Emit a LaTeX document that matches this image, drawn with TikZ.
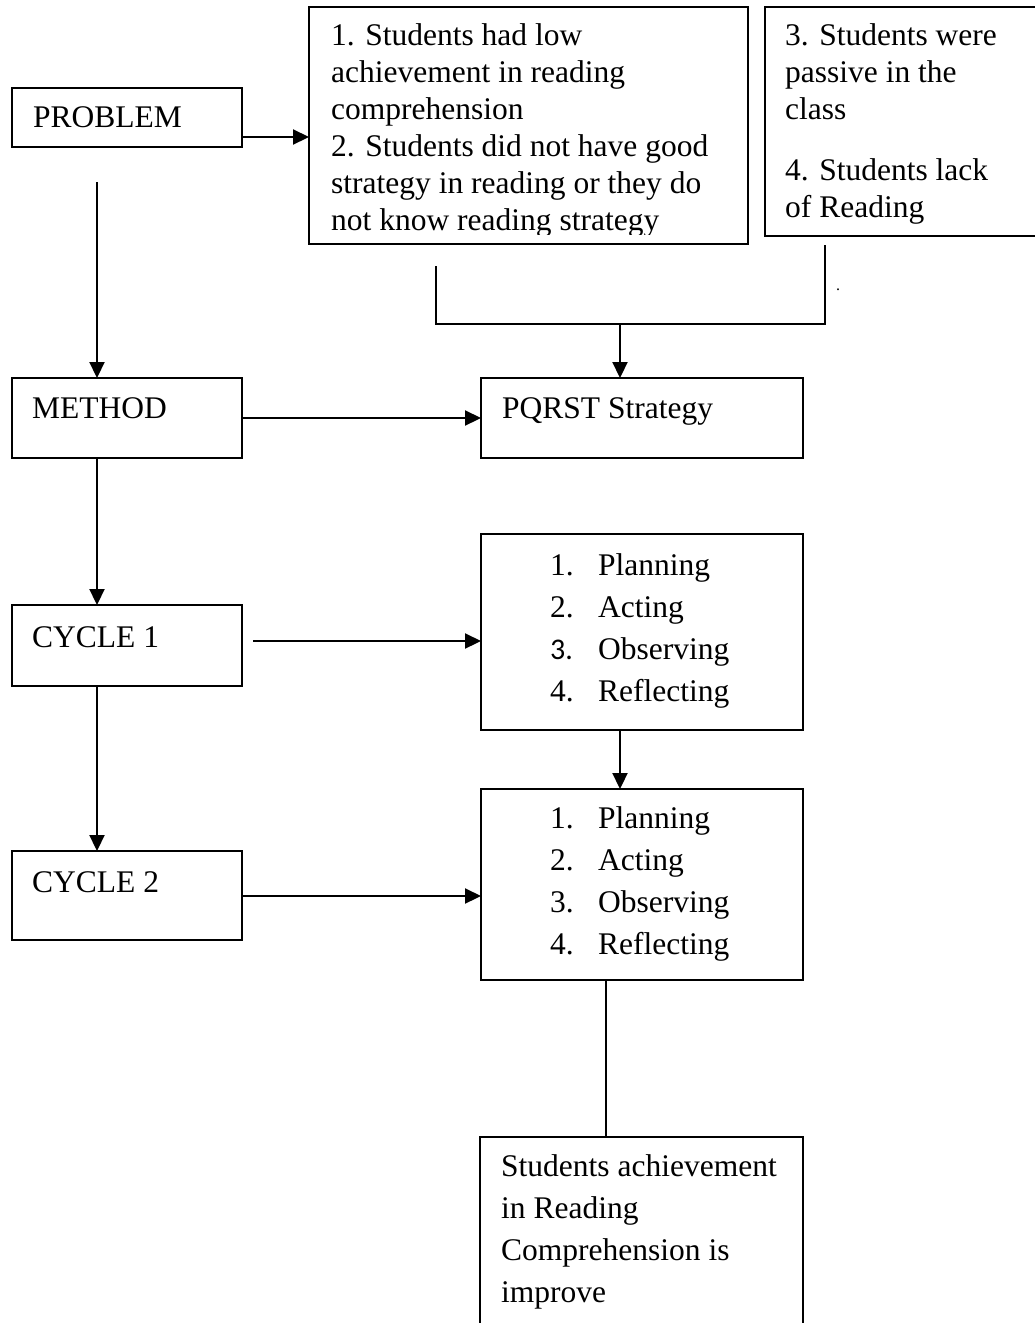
\documentclass[tikz,border=0pt]{standalone}
\usepackage{fontspec}
\setmainfont{Liberation Serif}
\newfontfamily\calib{Carlito}
\usetikzlibrary{arrows.meta}
\newcommand\fsA{\fontsize{31.5}{37}\selectfont}
\newcommand\fsB{\fontsize{31.5}{42}\selectfont}
\begin{document}
\begin{tikzpicture}[x=1pt,y=-1pt,
  box/.style={draw, line width=2.2pt, inner sep=0pt, outer sep=0pt},
  txtA/.style={anchor=north west, inner sep=0pt, align=left, font=\fsA},
  txtB/.style={anchor=north west, inner sep=0pt, align=left, font=\fsB},
  one/.style={anchor=base west, inner sep=0pt, font=\fsA},
  arr/.style={line width=2.2pt, -{Triangle[length=16pt,width=15pt]}},
  ln/.style={line width=2.2pt}]
\clip (0,0) rectangle (1035,1323);
\fill[white] (0,0) rectangle (1035,1323);

% boxes
\node[box, minimum width=230, minimum height=59] (prob) at (127,117.5) {};
\node[box, minimum width=439, minimum height=237] (box1) at (528.5,125.5) {};
\node[box, minimum width=280, minimum height=229] (box2) at (905,121.5) {};
\node[box, minimum width=230, minimum height=80] (meth) at (127,418) {};
\node[box, minimum width=322, minimum height=80] (pqrst) at (642,418) {};
\node[box, minimum width=230, minimum height=81] (cyc1) at (127,645.5) {};
\node[box, minimum width=322, minimum height=196] (plan1) at (642,632) {};
\node[box, minimum width=230, minimum height=89] (cyc2) at (127,895.5) {};
\node[box, minimum width=322, minimum height=191] (plan2) at (642,884.5) {};
\node[box, minimum width=323, minimum height=203] (res) at (641.5,1238.5) {};

% texts
\node[one] (tprob) at (33,127) {PROBLEM};
\begin{scope}
\clip (300,0) rectangle (748,234);
\node[txtA] (tbox1) at (331,19.1) {1. Students had low\strut\\achievement in reading\strut\\comprehension\strut\\2. Students did not have good\strut\\strategy in reading or they do\strut\\not know reading strategy\strut};
\end{scope}
\node[txtA] (tbox2a) at (785,19.1) {3. Students were\strut\\passive in the\strut\\class\strut};
\node[txtA] (tbox2b) at (785,154.1) {4. Students lack\strut\\of Reading\strut};
\node[inner sep=0pt, font=\fontsize{16}{16}\selectfont] (dot) at (838,290) {.};
\node[one] (tmeth) at (32,418) {METHOD};
\node[one] (tpqrst) at (502,418) {PQRST Strategy};
\node[one] (tcyc1) at (32,647) {CYCLE 1};
\node[one] (tcyc2) at (32,892) {CYCLE 2};
\node[txtB] (n1) at (550,545.6) {1.\strut\\2.\strut\\{\calib\fontsize{30}{42}\selectfont 3.}\strut\\4.\strut};
\node[txtB] (w1) at (598,545.6) {Planning\strut\\Acting\strut\\Observing\strut\\Reflecting\strut};
\node[txtB] (n2) at (550,798.6) {1.\strut\\2.\strut\\3.\strut\\4.\strut};
\node[txtB] (w2) at (598,798.6) {Planning\strut\\Acting\strut\\Observing\strut\\Reflecting\strut};
\node[txtB] (tres) at (501,1146.6) {Students achievement\strut\\in Reading\strut\\Comprehension is\strut\\improve\strut};

% connectors
\draw[arr] ([yshift=-19.5pt]prob.east) -- ([yshift=-19.5pt]prob.east -| box1.west);
\coordinate (p0) at (97,182);
\draw[arr] (p0) -- (p0 |- meth.north);
\coordinate (bl) at (436,266);
\coordinate (bj) at (620,324);
\coordinate (br) at (825,245);
\draw[ln] (bl) -- (bl |- bj) -- (br |- bj) -- (br);
\draw[arr] (bj) -- (bj |- pqrst.north);
\draw[arr] (meth.east) -- (pqrst.west);
\draw[arr] (meth.south -| p0) -- (cyc1.north -| p0);
\coordinate (c1s) at (253,641);
\draw[arr] (c1s) -- (c1s -| plan1.west);
\draw[arr] (plan1.south -| bj) -- (plan2.north -| bj);
\draw[arr] (cyc1.south -| p0) -- (cyc2.north -| p0);
\draw[arr] ([yshift=-0.5pt]cyc2.east) -- ([yshift=-0.5pt]cyc2.east -| plan2.west);
\draw[ln] ([xshift=-36pt]plan2.south) -- ([xshift=-36pt]plan2.south |- res.north);
\end{tikzpicture}
\end{document}
